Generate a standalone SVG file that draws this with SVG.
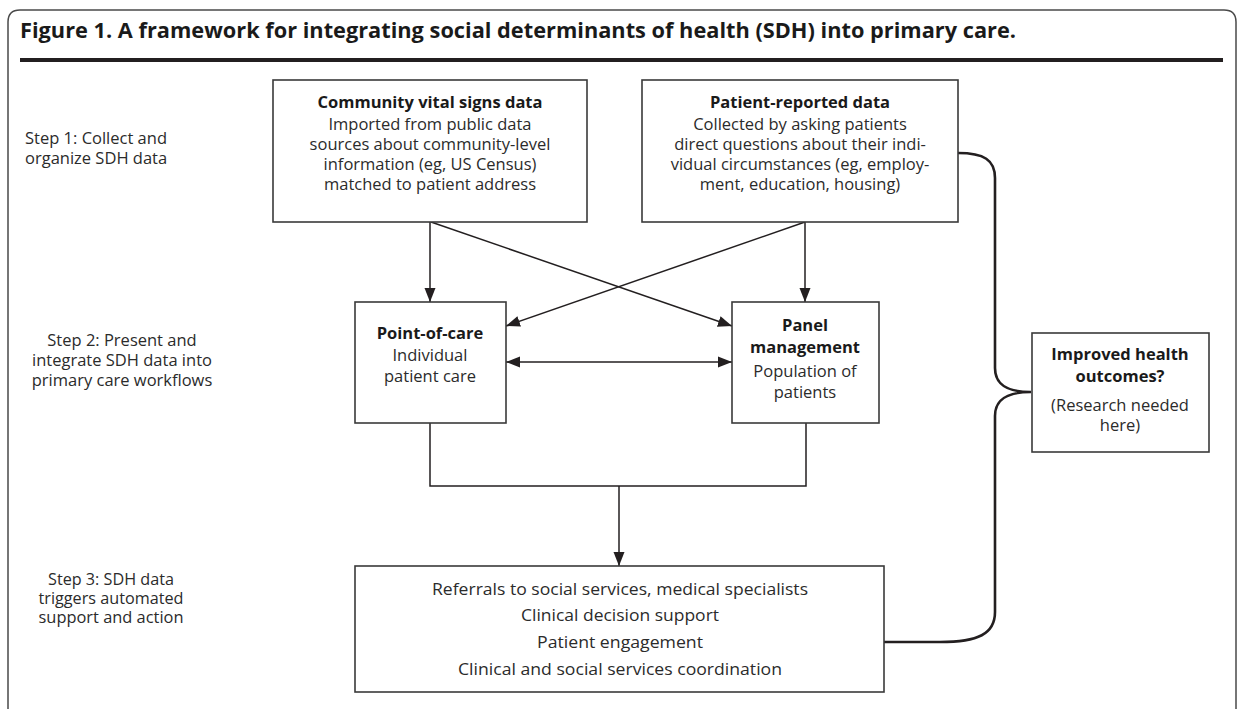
<svg xmlns="http://www.w3.org/2000/svg" width="1237" height="709" viewBox="0 0 1237 709">
<style>
.t{font-family:"Open Sans","Noto Sans","Liberation Sans",sans-serif;fill:#2b2b2b;font-size:16.5px;text-anchor:middle}
.b{font-weight:bold;fill:#1a1a1a}
.s{font-family:"Open Sans","Noto Sans","Liberation Sans",sans-serif;fill:#2b2b2b;font-size:16.5px}
.c{font-family:"Open Sans","Noto Sans","Liberation Sans",sans-serif;fill:#2b2b2b;font-size:17px;text-anchor:middle}
.box{fill:#fff;stroke:#3a3a3a;stroke-width:1.6}
.ln{fill:none;stroke:#231f20;stroke-width:1.5}
.br{fill:none;stroke:#231f20;stroke-width:2.6}
</style>
<defs>
<marker id="ah" markerUnits="userSpaceOnUse" markerWidth="15" markerHeight="12" refX="14" refY="5.5" orient="auto-start-reverse" viewBox="0 0 15 11">
<path d="M0,0 L14,5.5 L0,11 z" fill="#231f20"/>
</marker>
</defs>
<rect width="1237" height="709" fill="#fff"/>
<g id="frame">
<path d="M8,709 V22 Q8,10 20,10 H1224 Q1236,10 1236,22 V709" fill="none" stroke="#4a4a4a" stroke-width="1.5"/>
<text x="20" y="38" textLength="996" lengthAdjust="spacingAndGlyphs" style="font-family:'Open Sans','Noto Sans','Liberation Sans',sans-serif;font-weight:bold;font-size:21.5px;fill:#1a1a1a">Figure 1. A framework for integrating social determinants of health (SDH) into primary care.</text>
<rect x="20" y="58" width="1203" height="4" fill="#231f20"/>
</g>
<g id="step1">
<text class="s" x="25" y="144">Step 1: Collect and</text>
<text class="s" x="25" y="164">organize SDH data</text>
</g>
<g id="step2">
<text class="s" x="122" y="346" text-anchor="middle">Step 2: Present and</text>
<text class="s" x="122" y="366" text-anchor="middle">integrate SDH data into</text>
<text class="s" x="122" y="386" text-anchor="middle">primary care workflows</text>
</g>
<g id="step3">
<text class="c" x="111" y="585" textLength="126" lengthAdjust="spacingAndGlyphs">Step 3: SDH data</text>
<text class="c" x="111" y="604" textLength="145" lengthAdjust="spacingAndGlyphs">triggers automated</text>
<text class="c" x="111" y="623" textLength="145" lengthAdjust="spacingAndGlyphs">support and action</text>
</g>
<g id="connectors">
<line class="ln" x1="430" y1="222" x2="430" y2="302" marker-end="url(#ah)"/>
<line class="ln" x1="431" y1="222" x2="732" y2="326" marker-end="url(#ah)"/>
<line class="ln" x1="805" y1="222" x2="805" y2="302" marker-end="url(#ah)"/>
<line class="ln" x1="805" y1="222" x2="506" y2="326" marker-end="url(#ah)"/>
<line class="ln" x1="506" y1="362" x2="732" y2="362" marker-start="url(#ah)" marker-end="url(#ah)"/>
<polyline class="ln" points="430,423 430,486 806,486 806,423"/>
<line class="ln" x1="619" y1="486" x2="619" y2="566" marker-end="url(#ah)"/>
<path class="br" d="M958,153 C984,153 995,160 995,178 V368 C995,384 1006,392 1031,392 C1006,392 995,400 995,416 V612 C995,634 978,642 940,642 H884"/>
</g>
<g id="community">
<rect class="box" x="273" y="80" width="314" height="142"/>
<text class="t b" x="430" y="108">Community vital signs data</text>
<text class="t" x="430" y="130">Imported from public data</text>
<text class="t" x="430" y="150">sources about community-level</text>
<text class="t" x="430" y="170">information (eg, US Census)</text>
<text class="t" x="430" y="190">matched to patient address</text>
</g>
<g id="patient">
<rect class="box" x="642" y="80" width="316" height="142"/>
<text class="t b" x="800" y="108">Patient-reported data</text>
<text class="t" x="800" y="130">Collected by asking patients</text>
<text class="t" x="800" y="150">direct questions about their indi-</text>
<text class="t" x="800" y="170">vidual circumstances (eg, employ-</text>
<text class="t" x="800" y="190">ment, education, housing)</text>
</g>
<g id="pointofcare">
<rect class="box" x="355" y="302" width="151" height="121"/>
<text class="t b" x="430" y="339">Point-of-care</text>
<text class="t" x="430" y="361">Individual</text>
<text class="t" x="430" y="382">patient care</text>
</g>
<g id="panel">
<rect class="box" x="732" y="302" width="147" height="121"/>
<text class="t b" x="805" y="331">Panel</text>
<text class="t b" x="805" y="353">management</text>
<text class="t" x="805" y="377">Population of</text>
<text class="t" x="805" y="398">patients</text>
</g>
<g id="outcomes">
<rect class="box" x="1032" y="333" width="177" height="119"/>
<text class="t b" x="1120" y="360">Improved health</text>
<text class="t b" x="1120" y="382">outcomes?</text>
<text class="t" x="1120" y="411">(Research needed</text>
<text class="t" x="1120" y="431">here)</text>
</g>
<g id="actions">
<rect class="box" x="355" y="566" width="529" height="126"/>
<text class="c" x="620" y="595" textLength="376" lengthAdjust="spacingAndGlyphs">Referrals to social services, medical specialists</text>
<text class="c" x="620" y="621" textLength="198" lengthAdjust="spacingAndGlyphs">Clinical decision support</text>
<text class="c" x="620" y="648" textLength="166" lengthAdjust="spacingAndGlyphs">Patient engagement</text>
<text class="c" x="620" y="675" textLength="324" lengthAdjust="spacingAndGlyphs">Clinical and social services coordination</text>
</g>
</svg>
